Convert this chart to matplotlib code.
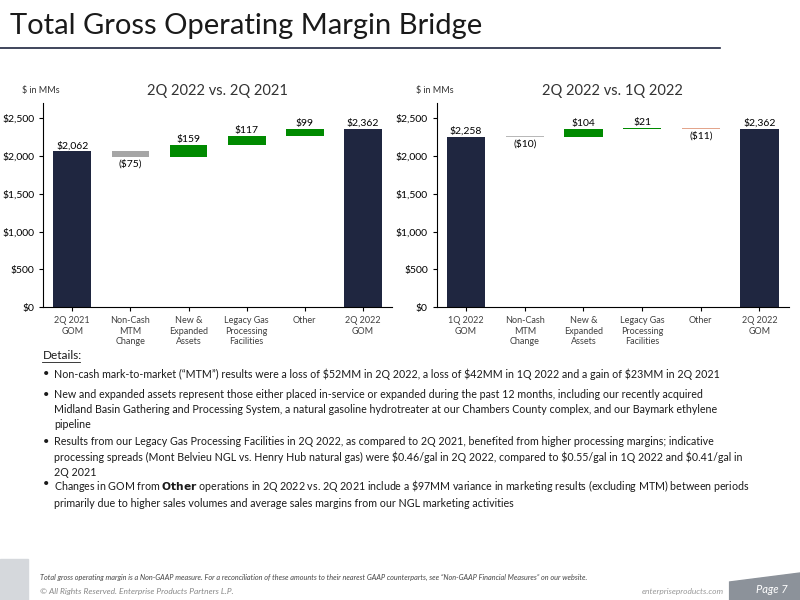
import matplotlib
matplotlib.use("Agg")
import matplotlib.pyplot as plt
from matplotlib.ticker import FuncFormatter

plt.rcParams['font.family'] = ['Lato', 'DejaVu Sans']

cats_left = ["2Q 2021\nGOM", "Non-Cash\nMTM\nChange", "New &\nExpanded\nAssets",
             "Legacy Gas\nProcessing\nFacilities", "Other", "2Q 2022\nGOM"]
vals_left = [2062, -75, 159, 117, 99, 2362]
cats_right = ["1Q 2022\nGOM", "Non-Cash\nMTM\nChange", "New &\nExpanded\nAssets",
              "Legacy Gas\nProcessing\nFacilities", "Other", "2Q 2022\nGOM"]
vals_right = [2258, -10, 104, 21, -11, 2362]
ticks = [0, 500, 1000, 1500, 2000, 2500]

NAVY = "#1F2640"
GREEN = "#008A00"
GRAY = "#A6A6A6"
SALMON = "#E3A58C"

fig = plt.figure(figsize=(8, 6), dpi=100)

def lab(v):
    return f"(${-v:,})" if v < 0 else f"${v:,}"

def bridge(ax, cats, vals, title, neg_colors):
    n = len(vals)
    run = 0
    for i, v in enumerate(vals):
        if i == 0 or i == n - 1:
            ax.bar(i, v, width=0.65, color=NAVY)
            ax.text(i, v + 15, lab(v), ha='center', va='bottom', fontsize=7.5)
            run = v
        else:
            bottom = run + min(v, 0)
            h = max(abs(v), 14)
            col = GREEN if v > 0 else neg_colors[i]
            ax.bar(i, h, bottom=bottom, width=0.65, color=col, zorder=3)
            if v > 0:
                ax.text(i, run + v + 15, lab(v), ha='center', va='bottom', fontsize=7.5)
            else:
                ax.text(i, bottom - 30, lab(v), ha='center', va='top', fontsize=7.5)
            run += v
    ax.set_ylim(0, 2700)
    ax.set_xlim(-0.5, n - 0.5)
    ax.set_yticks(ticks)
    ax.yaxis.set_major_formatter(FuncFormatter(lambda y, p: f"${int(y):,}"))
    ax.set_xticks(range(n))
    ax.set_xticklabels(cats, fontsize=6.5, color="#404040", linespacing=1.2)
    ax.tick_params(axis='y', labelsize=7.5, length=3)
    ax.tick_params(axis='x', length=3)
    for s in ['top', 'right']:
        ax.spines[s].set_visible(False)
    ax.set_title(title, fontsize=10.5, color="#333333", pad=6)
    ax.text(-0.06, 1.04, "$ in MMs", transform=ax.transAxes, fontsize=6.5,
            ha='left', va='bottom', color="#333333")

ax1 = fig.add_axes([0.054, 0.488, 0.436, 0.34])
bridge(ax1, cats_left, vals_left, "2Q 2022 vs. 2Q 2021", {1: GRAY})
ax2 = fig.add_axes([0.546, 0.488, 0.44, 0.34])
bridge(ax2, cats_right, vals_right, "2Q 2022 vs. 1Q 2022", {1: "#B8B8B8", 4: SALMON})

fig.text(0.012, 0.957, "Total Gross Operating Margin Bridge", fontsize=21, color="#1a1a1a", va='center')
fig.add_artist(plt.Line2D([0, 0.9], [0.92, 0.92], color=NAVY, lw=1.2))

fig.text(0.053, 0.408, "Details:", fontsize=8.5, va='center', color="#1a1a1a")
fig.add_artist(plt.Line2D([0.053, 0.1], [0.396, 0.396], color="#1a1a1a", lw=0.6))
bullets = [
    (0.386, "Non-cash mark-to-market (\u201cMTM\u201d) results were a loss of $52MM in 2Q 2022, a loss of $42MM in 1Q 2022 and a gain of $23MM in 2Q 2021"),
    (0.351, "New and expanded assets represent those either placed in-service or expanded during the past 12 months, including our recently acquired\nMidland Basin Gathering and Processing System, a natural gasoline hydrotreater at our Chambers County complex, and our Baymark ethylene\npipeline"),
    (0.273, "Results from our Legacy Gas Processing Facilities in 2Q 2022, as compared to 2Q 2021, benefited from higher processing margins; indicative\nprocessing spreads (Mont Belvieu NGL vs. Henry Hub natural gas) were $0.46/gal in 2Q 2022, compared to $0.55/gal in 1Q 2022 and $0.41/gal in\n2Q 2021"),
    (0.203, "Changes in GOM from $\\bf{Other}$ operations in 2Q 2022 vs. 2Q 2021 include a $97MM variance in marketing results (excluding MTM) between periods\nprimarily due to higher sales volumes and average sales margins from our NGL marketing activities"),
]
for y, t in bullets:
    fig.text(0.053, y, "\u2022", fontsize=8, va='top', color="#1a1a1a")
    t = t.replace("$", "\\$").replace("\\$\\bf{Other}\\$", "$\\bf{Other}$")
    fig.text(0.068, y, t, fontsize=7.7, va='top', color="#1a1a1a", linespacing=1.45)

fig.add_artist(plt.Rectangle((0.0, 0.0), 0.035, 0.068, color="#D5D8DC", transform=fig.transFigure))
fig.text(0.05, 0.038, "Total gross operating margin is a Non-GAAP measure. For a reconciliation of these amounts to their nearest GAAP counterparts, see \u201cNon-GAAP Financial Measures\u201d on our website.",
         fontsize=5.2, style='italic', color="#444444", va='center')
fig.text(0.05, 0.014, "\u00a9 All Rights Reserved. Enterprise Products Partners L.P.", fontsize=6, style='italic', color="#888888", va='center')
fig.text(0.905, 0.014, "enterpriseproducts.com", fontsize=6, style='italic', color="#999999", va='center', ha='right')
fig.add_artist(plt.Polygon([[0.912, 0.0], [1.0, 0.0], [1.0, 0.045], [0.912, 0.03]], closed=True,
                           color="#8C929A", transform=fig.transFigure))
fig.text(0.985, 0.018, "Page 7", fontsize=8, style='italic', color="white", ha='right', va='center')

fig.savefig("out.png", dpi=100)
